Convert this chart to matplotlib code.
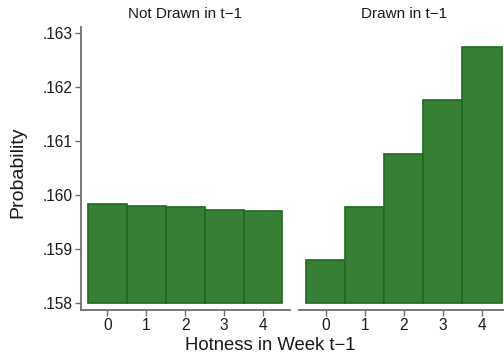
import matplotlib
matplotlib.use("Agg")
import matplotlib.pyplot as plt

categories = [0, 1, 2, 3, 4]
not_drawn = [0.159835, 0.159803, 0.159772, 0.159730, 0.159699]
drawn = [0.158805, 0.159779, 0.160765, 0.161757, 0.162731]
ytick_vals = [0.158, 0.159, 0.160, 0.161, 0.162, 0.163]
ytick_labels = [".158", ".159", ".160", ".161", ".162", ".163"]
panel_titles = ["Not Drawn in t\u22121", "Drawn in t\u22121"]
base = 0.158

plt.rcParams['font.family'] = ['Liberation Sans', 'DejaVu Sans']

W, H = 504, 361
fig = plt.figure(figsize=(W / 100, H / 100), dpi=100)

bottom = (H - 310) / H
height = (310 - 27) / H
ax1 = fig.add_axes([81 / W, bottom, 208.5 / W, height])
ax2 = fig.add_axes([299 / W, bottom, 209.6 / W, height])

fill = '#367f35'
edge = '#1d6a1d'
axcol = '#6e6e6e'
ylim = (0.15787, 0.16311)

for ax, vals, title in [(ax1, not_drawn, panel_titles[0]), (ax2, drawn, panel_titles[1])]:
    ax.bar(categories, [v - base for v in vals], bottom=base, width=1.0,
           color=fill, edgecolor=edge, linewidth=1.2)
    ax.set_xlim(-0.68, 4.68)
    ax.set_ylim(*ylim)
    ax.set_xticks(categories)
    ax.set_xticklabels([str(c) for c in categories])
    for s in ['top', 'right']:
        ax.spines[s].set_visible(False)
    ax.spines['bottom'].set_color(axcol)
    ax.spines['bottom'].set_linewidth(1.3)
    ax.tick_params(axis='x', length=4, width=1, color=axcol, labelsize=11.2,
                   labelcolor='#1a1a1a', pad=1.5)
    ax.text(0.5, 1.0 + 13 / (310 - 27), title, transform=ax.transAxes,
            ha='center', va='center', fontsize=11, color='#1a1a1a')

ax1.spines['left'].set_color(axcol)
ax1.spines['left'].set_linewidth(1.3)
ax1.set_yticks(ytick_vals)
ax1.set_yticklabels(ytick_labels)
ax1.tick_params(axis='y', length=4, width=1, color=axcol, labelsize=11.2,
                labelcolor='#1a1a1a', pad=2)

ax2.spines['left'].set_visible(False)
ax2.set_yticks([])

fig.text(270.5 / W, 1 - 345 / H, "Hotness in Week t\u22121", ha='center', va='center',
         fontsize=13.3, color='#1a1a1a')
fig.text(18 / W, 1 - 172 / H, "Probability", ha='center', va='center',
         rotation=90, fontsize=14, color='#1a1a1a')

fig.savefig("out.png", dpi=100)
